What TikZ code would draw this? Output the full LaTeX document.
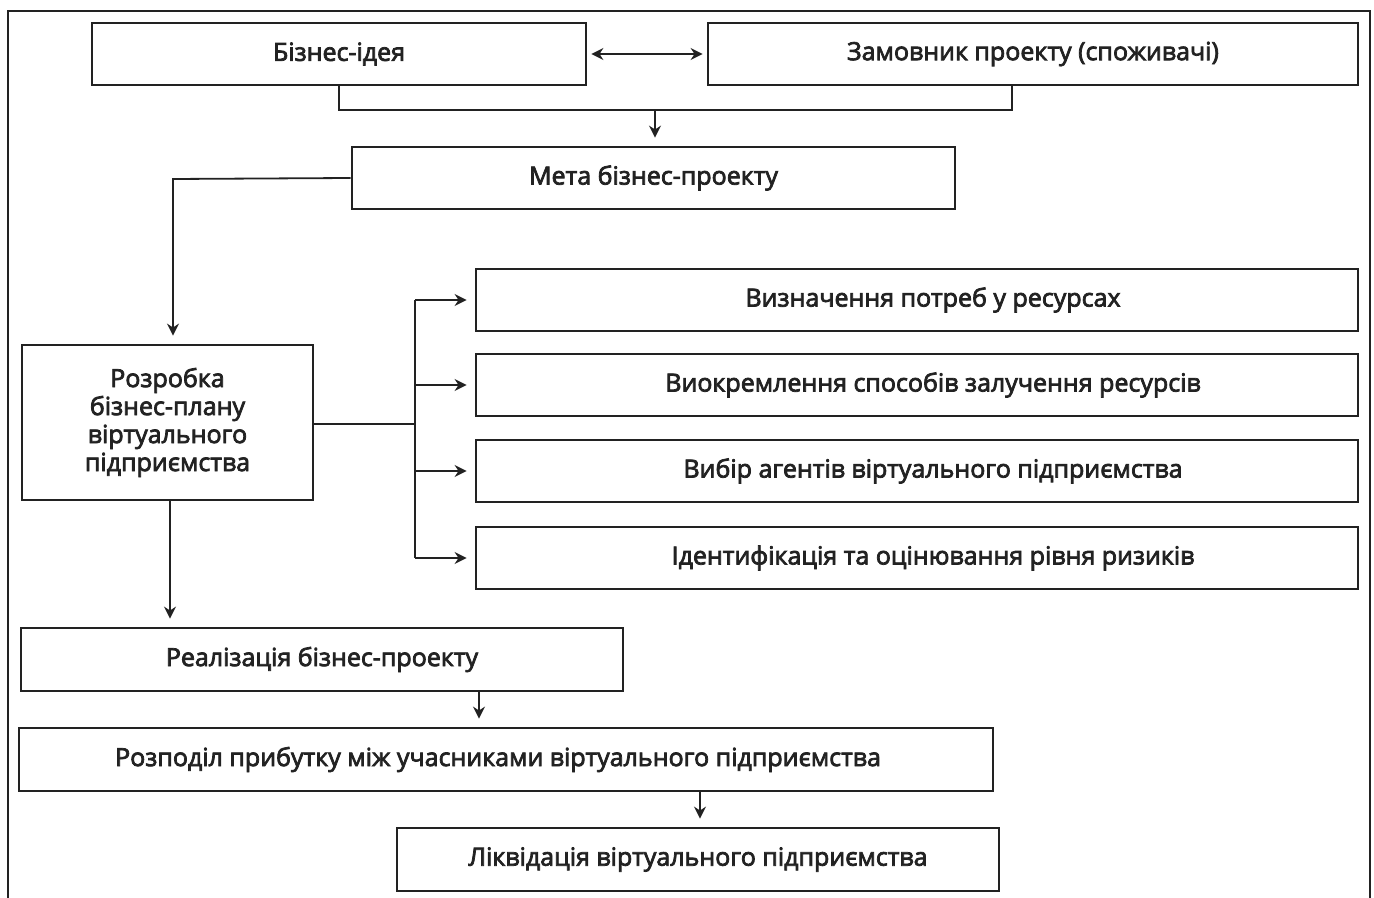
\documentclass[tikz,border=0pt]{standalone}
\usepackage{fontspec}
\setmainfont{Open Sans}
\newfontfamily\boxfont{Open Sans}[FakeBold=3]
\usetikzlibrary{arrows.meta,calc}
\definecolor{ink}{HTML}{222222}
\tikzset{
  box/.style={draw=ink, line width=1.4pt, rectangle, inner sep=0pt, align=center,
    text=ink, font=\boxfont\fontsize{12.5}{14}\selectfont},
  rbox/.style={box, minimum width=441pt, minimum height=31pt},
  conn/.style={draw=ink, line width=0.9pt},
  arr/.style={conn, -{Stealth[length=6pt,width=6pt]}, shorten >=4pt},
  darr/.style={conn, {Stealth[length=6pt,width=6pt]}-{Stealth[length=6pt,width=6pt]}, shorten >=2pt, shorten <=2pt}
}
\begin{document}
\begin{tikzpicture}[x=0.5pt,y=-0.5pt]
\useasboundingbox (0,0) rectangle (1374,898);
\draw[ink, line width=1.2pt] (8,898) -- (8,11) -- (1370,11) -- (1370,898);

\node[box, minimum width=247pt, minimum height=31pt] (b1) at (339,54) {Бізнес-ідея};
\node[box, minimum width=325pt, minimum height=31pt] (b2) at (1033,54) {Замовник проекту (споживачі)};
\node[box, minimum width=301.5pt, minimum height=31pt] (b3) at (653.5,178) {Мета бізнес-проекту};
\node[box, minimum width=145.5pt, minimum height=77.5pt] (b4) at (167.5,422.5) {Розробка\\бізнес-плану\\віртуального\\підприємства};
\node[rbox] (r1) at (917,300) {\hspace*{16pt}Визначення потреб у ресурсах};
\node[rbox] (r2) at (917,385) {\hspace*{16pt}Виокремлення способів залучення ресурсів};
\node[rbox] (r3) at (917,471) {\hspace*{16pt}Вибір агентів віртуального підприємства};
\node[rbox] (r4) at (917,558) {\hspace*{16pt}Ідентифікація та оцінювання рівня ризиків};
\node[box, minimum width=301pt, minimum height=31.5pt] (b5) at (322,659.5) {Реалізація бізнес-проекту};
\node[box, minimum width=487pt, minimum height=31.5pt] (b6) at (506,759.5) {Розподіл прибутку між учасниками віртуального підприємства\hspace*{8pt}};
\node[box, minimum width=301pt, minimum height=31.5pt] (b7) at (698,859.5) {Ліквідація віртуального підприємства};

% top connectors
\draw[darr] (b1.east) -- (b2.west);
\coordinate (j) at (655,110);
\coordinate (j2) at (1012,85);
\draw[conn] (b1.south) |- (j) -| (j2);
\draw[arr] (j) -- (j |- b3.north);

% goal -> business plan
\coordinate (k) at (173,179);
\draw[arr] (b3.west) -- (k) -- (k |- b4.north);

% business plan -> resources
\coordinate (sp) at (415,424);
\draw[conn] (b4.east |- sp) -- (sp);
\draw[conn] (sp |- r1.west) -- (sp |- r4.west);
\draw[arr] (sp |- r1.west) -- (r1.west);
\draw[arr] (sp |- r2.west) -- (r2.west);
\draw[arr] (sp |- r3.west) -- (r3.west);
\draw[arr] (sp |- r4.west) -- (r4.west);

% vertical chain
\coordinate (m1) at (170,500);
\draw[arr] (m1) -- (m1 |- b5.north);
\coordinate (m2) at (479,691);
\draw[arr] (m2) -- (m2 |- b6.north);
\coordinate (m3) at (700,791);
\draw[arr] (m3) -- (m3 |- b7.north);
\end{tikzpicture}
\end{document}
